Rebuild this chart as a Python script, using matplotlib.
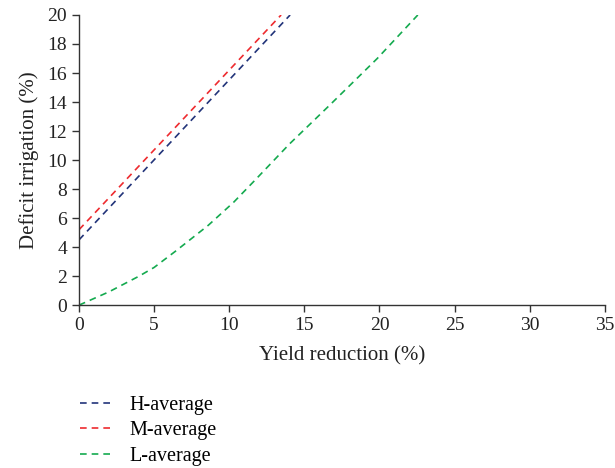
import numpy as np
from matplotlib import pyplot as plt

# data
h_x = [0, 14.05]
h_y = [4.5, 20.0]
m_x = [0, 13.45]
m_y = [5.2, 20.0]
l_x = [0, 2.0, 4.0, 5.0, 6.4, 8.6, 10.3, 11.7, 14.0, 16.7, 19.85, 22.55]
l_y = [0, 0.92, 2.0, 2.6, 3.7, 5.5, 7.1, 8.6, 11.1, 13.8, 17.0, 20.0]
labels = ["H-average", "M-average", "L-average"]
colors = ["#22347a", "#ee2b2f", "#14aa4f"]

plt.rcParams['font.family'] = ['Liberation Serif', 'DejaVu Serif']

fig = plt.figure(figsize=(6.15, 4.68), dpi=100)
ax = fig.add_axes([0.1285, 0.348, 0.855, 0.62])

lines = []
for (x, y), c, lab in zip([(h_x, h_y), (m_x, m_y), (l_x, l_y)], colors, labels):
    ln, = ax.plot(x, y, linestyle=(0, (4, 3)), color=c, linewidth=1.2, label=lab)
    lines.append(ln)

ax.set_xlim(0, 35)
ax.set_ylim(0, 20)
ax.set_xticks(np.arange(0, 36, 5))
ax.set_yticks(np.arange(0, 21, 2))
for s in ["top", "right"]:
    ax.spines[s].set_visible(False)
for s in ["left", "bottom"]:
    ax.spines[s].set_color("#333333")
    ax.spines[s].set_linewidth(1.0)
ax.tick_params(direction="out", length=5, width=1.0, colors="#333333",
               labelsize=14, labelcolor="#222222")
ax.set_xlabel("Yield reduction (%)", fontsize=15, color="#222222", labelpad=9)
ax.set_ylabel("Deficit irrigation (%)", fontsize=15, color="#222222", labelpad=6)

fig.legend(handles=lines, loc="upper left", bbox_to_anchor=(0.117, 0.172),
           frameon=False, fontsize=14.5, handlelength=1.6, handletextpad=0.85,
           labelspacing=0.33, borderaxespad=0)

fig.savefig("out.png", dpi=100)
